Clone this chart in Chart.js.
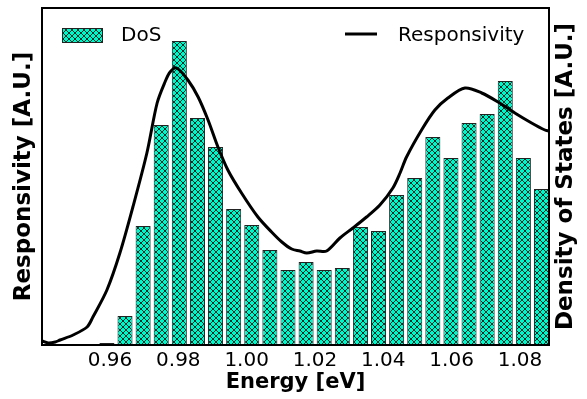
<!DOCTYPE html>
<html>
<head>
<meta charset="utf-8">
<script src="https://cdn.jsdelivr.net/npm/chart.js@4.4.0/dist/chart.umd.min.js"></script>
<style>
  html, body { margin: 0; padding: 0; background: #fff; }
  #wrap { width: 587px; height: 399px; }
</style>
</head>
<body>
<div id="wrap"><canvas id="grafico"></canvas></div>
<script>
// Dados do grafico
var energiaDos = [0.9591, 0.9644, 0.9697, 0.9750, 0.9803, 0.9856, 0.9909, 0.9962, 1.0015, 1.0068,
                  1.0121, 1.0174, 1.0227, 1.0280, 1.0333, 1.0386, 1.0439, 1.0492, 1.0545, 1.0598,
                  1.0651, 1.0704, 1.0757, 1.0810, 1.0863];
var valoresDos = [0.02, 0.29, 1.19, 2.20, 3.04, 2.27, 1.98, 1.36, 1.20, 0.95,
                  0.75, 0.83, 0.75, 0.77, 1.18, 1.14, 1.50, 1.67, 2.08, 1.87,
                  2.22, 2.31, 2.64, 1.87, 1.56];

var energiaResp = [0.9401, 0.9419, 0.9440, 0.9454, 0.9492, 0.9533, 0.9550, 0.9591, 0.9629, 0.9667,
                   0.9708, 0.9738, 0.9761, 0.9776, 0.9795, 0.9828, 0.9858, 0.9887, 0.9916, 0.9945,
                   0.9985, 1.0033, 1.0073, 1.0103, 1.0132, 1.0156, 1.0176, 1.0205, 1.0234, 1.0273,
                   1.0311, 1.0351, 1.0390, 1.0428, 1.0449, 1.0468, 1.0512, 1.0551, 1.0589, 1.0639,
                   1.0688, 1.0736, 1.0785, 1.0834, 1.0873, 1.0885];
var valoresResp = [0.04, 0.02, 0.03, 0.05, 0.10, 0.18, 0.28, 0.55, 0.92, 1.38,
                   1.92, 2.42, 2.63, 2.73, 2.77, 2.65, 2.48, 2.25, 1.98, 1.75,
                   1.52, 1.28, 1.13, 1.03, 0.96, 0.94, 0.92, 0.94, 0.94, 1.07,
                   1.17, 1.28, 1.40, 1.57, 1.72, 1.88, 2.15, 2.35, 2.47, 2.57,
                   2.52, 2.43, 2.32, 2.22, 2.15, 2.14];

var ticksEnergia = [0.96, 0.98, 1.00, 1.02, 1.04, 1.06, 1.08];

var fonteTitulo = { family: 'DejaVu Sans', size: 23, weight: 'bold', lineHeight: 1 };

// Padrao hachurado (xx) para as barras
function criarHachura(cor) {
    var c = document.createElement('canvas');
    c.width = 6; c.height = 6;
    var g = c.getContext('2d');
    g.fillStyle = cor;
    g.fillRect(0, 0, 6, 6);
    g.strokeStyle = '#000';
    g.lineWidth = 0.8;
    g.beginPath();
    g.moveTo(0, 0); g.lineTo(6, 6);
    g.moveTo(0, 6); g.lineTo(6, 0);
    g.stroke();
    return g.createPattern(c, 'repeat');
}
var hachura = criarHachura('#00F5C8');

function montarPontos(xs, ys) {
    return xs.map(function(x, i) { return { x: x, y: ys[i] }; });
}

// Moldura do grafico, legenda e titulo do eixo direito
var molduraLegenda = {
    id: 'molduraLegenda',
    afterDraw: function(chart) {
        var ctx = chart.ctx;
        var a = chart.chartArea;
        ctx.save();
        ctx.strokeStyle = '#000';
        ctx.lineWidth = 2;
        ctx.strokeRect(a.left, a.top, a.right - a.left, a.bottom - a.top);

        // legenda DoS
        ctx.fillStyle = hachura;
        ctx.fillRect(a.left + 20, a.top + 20, 41, 15);
        ctx.lineWidth = 1;
        ctx.strokeStyle = '#222';
        ctx.strokeRect(a.left + 20.5, a.top + 20.5, 40, 14);
        ctx.fillStyle = '#000';
        ctx.font = '20px "DejaVu Sans"';
        ctx.textBaseline = 'middle';
        ctx.textAlign = 'left';
        ctx.fillText('DoS', a.left + 79, a.top + 28);

        // legenda Responsivity
        ctx.lineWidth = 3;
        ctx.strokeStyle = '#000';
        ctx.beginPath();
        ctx.moveTo(a.left + 303, a.top + 26);
        ctx.lineTo(a.left + 335, a.top + 26);
        ctx.stroke();
        ctx.fillText('Responsivity', a.left + 356, a.top + 28);

        // titulo do eixo direito, lido de baixo para cima
        ctx.translate(a.right + 17, (a.top + a.bottom) / 2);
        ctx.rotate(-Math.PI / 2);
        ctx.font = 'bold 23px "DejaVu Sans"';
        ctx.textAlign = 'center';
        ctx.textBaseline = 'middle';
        ctx.fillText('Density of States [A.U.]', 0, 0);
        ctx.restore();
    }
};

var ctx = document.getElementById('grafico').getContext('2d');
new Chart(ctx, {
    data: {
        datasets: [{
            type: 'line',
            label: 'Responsivity',
            data: montarPontos(energiaResp, valoresResp),
            borderColor: '#000',
            borderWidth: 3,
            pointRadius: 0,
            tension: 0.3,
            yAxisID: 'yResp',
            order: 0
        }, {
            type: 'bar',
            label: 'DoS',
            data: montarPontos(energiaDos, valoresDos),
            backgroundColor: hachura,
            borderColor: '#222',
            borderWidth: 1,
            barPercentage: 1.0,
            categoryPercentage: 0.83,
            yAxisID: 'yDos',
            order: 1
        }]
    },
    options: {
        responsive: true,
        maintainAspectRatio: false,
        animation: false,
        layout: { padding: { left: 13, right: 9, top: 8, bottom: 6 } },
        plugins: {
            legend: { display: false },
            tooltip: { enabled: false }
        },
        scales: {
            x: {
                type: 'linear',
                offset: false,
                min: 0.9401,
                max: 1.0885,
                grid: { display: false, drawTicks: false, offset: false },
                border: { display: false },
                afterBuildTicks: function(scale) {
                    scale.ticks = ticksEnergia.map(function(v) { return { value: v }; });
                },
                ticks: {
                    padding: 6,
                    color: '#000',
                    font: { family: 'DejaVu Sans', size: 20, lineHeight: 1 },
                    callback: function(v) { return Number(v).toFixed(2); }
                },
                title: {
                    display: true,
                    text: 'Energy [eV]',
                    color: '#000',
                    padding: { top: -5, bottom: 0 },
                    font: { family: 'DejaVu Sans', size: 21, weight: 'bold', lineHeight: 1 }
                }
            },
            yResp: {
                position: 'left',
                min: 0,
                max: 3.37,
                grid: { display: false, drawTicks: false },
                border: { display: false },
                ticks: { display: false },
                title: {
                    display: true,
                    text: 'Responsivity [A.U.]',
                    color: '#000',
                    padding: { top: 0, bottom: 6 },
                    font: fonteTitulo
                }
            },
            yDos: {
                position: 'right',
                min: 0,
                max: 3.37,
                grid: { display: false, drawTicks: false },
                border: { display: false },
                ticks: { display: false },
                title: {
                    display: true,
                    text: 'Density of States [A.U.]',
                    color: 'rgba(0,0,0,0)',
                    padding: { top: 0, bottom: 6 },
                    font: fonteTitulo
                }
            }
        }
    },
    plugins: [molduraLegenda]
});
</script>
</body>
</html>
